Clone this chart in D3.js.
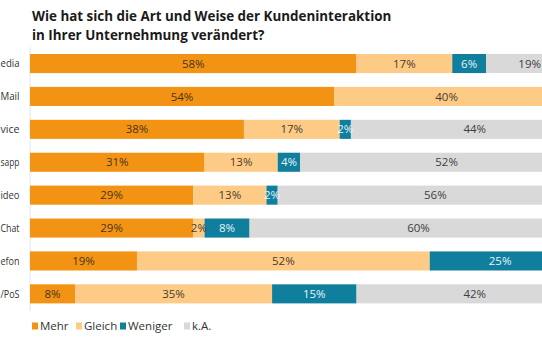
<!DOCTYPE html>
<html><head><meta charset="utf-8">
<script src="https://cdn.jsdelivr.net/npm/d3@7"></script>
<style>
html,body{margin:0;padding:0;background:#fff;}
svg{display:block;}
</style></head>
<body>
<script>
// Category labels as visible in the (cropped) reference
const categories = ["edia","Mail","vice","sapp","ideo","Chat","efon","/PoS"];
const mehr    = [58,54,38,31,29,29,19,8];
const gleich  = [17,40,17,13,13,2,52,35];
const weniger = [6,2,2,4,2,8,25,15];
const ka      = [19,4,44,52,56,60,4,42];
const seriesNames = ["Mehr","Gleich","Weniger","k.A."];
const titleLines = ["Wie hat sich die Art und Weise der Kundeninteraktion","in Ihrer Unternehmung verändert?"];

const colors = {"Mehr":"#f39314","Gleich":"#fdcb86","Weniger":"#0f7f9d","k.A.":"#d9d9d9"};
const textColors = {"Mehr":"#4a3420","Gleich":"#4a3c2c","Weniger":"#e6f4f8","k.A.":"#404040"};

const W=542,H=340;
const font = "'Open Sans', 'Noto Sans', sans-serif";
const svg = d3.select("body").append("svg").attr("width",W).attr("height",H)
  .style("font-family",font);

const table = categories.map((c,i)=>({cat:c,"Mehr":mehr[i],"Gleich":gleich[i],"Weniger":weniger[i],"k.A.":ka[i]}));
const stacked = d3.stack().keys(seriesNames)(table);

const x = d3.scaleLinear().domain([0,100]).range([30,593]);
const y = d3.scaleBand().domain(categories).range([54,303.4]).paddingInner(0.42).paddingOuter(0);

// title
svg.append("g").selectAll("text").data(titleLines).join("text")
  .attr("x",32).attr("y",(d,i)=>21+i*18.5)
  .attr("font-size",13.4).attr("font-weight","bold").attr("fill","#1a1a1a")
  .text(d=>d);

// axis line
svg.append("line").attr("x1",30).attr("x2",30).attr("y1",47).attr("y2",311)
  .attr("stroke","#e6e6e6").attr("stroke-width",1);

// category labels
const yAxis = d3.axisLeft(y).tickSize(0).tickPadding(0);
const ga = svg.append("g").attr("transform","translate(19.5,0)").call(yAxis);
ga.select(".domain").remove();
ga.selectAll("text").attr("font-size",11.5).attr("fill","#333").style("font-family",font)
  .each(function(){
    const w = this.getComputedTextLength();
    if (w > 19) d3.select(this).attr("textLength",19).attr("lengthAdjust","spacingAndGlyphs");
  });

// bars
const layers = svg.append("g").selectAll("g").data(stacked).join("g")
  .attr("fill",d=>colors[d.key]);
layers.selectAll("rect").data(d=>d.map(v=>Object.assign(v,{key:d.key}))).join("rect")
  .attr("x",d=>x(d[0])).attr("width",d=>x(d[1])-x(d[0]))
  .attr("y",d=>y(d.data.cat)).attr("height",y.bandwidth());

// labels (only those starting inside the visible area; kept inside the frame)
const lab = svg.append("g");
stacked.forEach(s=>{
  lab.selectAll(null).data(s.filter(d=>d[1]-d[0]>0 && x(d[0])<W-12)).join("text")
    .attr("x",d=>(x(d[0])+x(d[1]))/2)
    .attr("y",d=>y(d.data.cat)+y.bandwidth()/2)
    .attr("dy","0.36em")
    .attr("text-anchor","middle")
    .attr("font-size",11.5)
    .attr("fill",textColors[s.key])
    .text(d=>(d[1]-d[0])+"%")
    .each(function(){
      const w = this.getComputedTextLength();
      const cx = +d3.select(this).attr("x");
      if (cx + w/2 > W - 1) d3.select(this).attr("x", W - 1 - w/2);
    });
});

// legend
const legX = [32,76,120,184];
const leg = svg.append("g").selectAll("g").data(seriesNames).join("g")
  .attr("transform",(d,i)=>`translate(${legX[i]},326)`);
leg.append("rect").attr("x",0).attr("y",-3.5).attr("width",6).attr("height",7).attr("fill",d=>colors[d]);
leg.append("text").attr("x",8).attr("dy","0.36em").attr("font-size",11.5).attr("fill","#333").text(d=>d);
</script>
</body></html>
